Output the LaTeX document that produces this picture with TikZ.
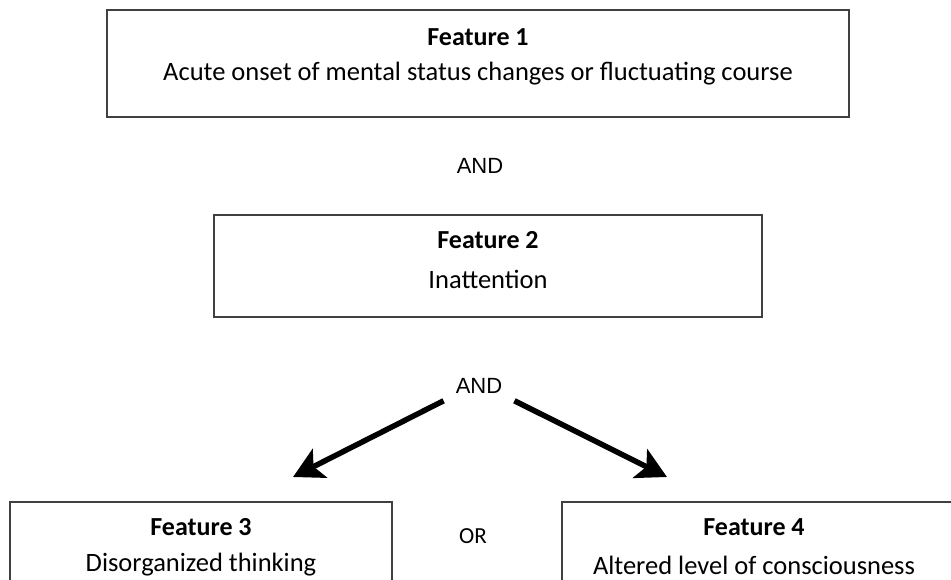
\documentclass[tikz,border=0pt]{standalone}
\usepackage{fontspec}
\setmainfont{Carlito}
\newfontfamily\andfont{Liberation Sans}
\usetikzlibrary{arrows.meta}
\begin{document}
\begin{tikzpicture}[x=1pt,y=-1pt,
  box/.style={draw=black!75,line width=1.6pt,inner sep=0pt},
  title/.style={font=\bfseries\fontsize{26}{30}\selectfont,inner sep=0pt},
  desc/.style={font=\fontsize{26.5}{30}\selectfont,inner sep=0pt},
  conj/.style={font=\andfont\fontsize{22}{25}\selectfont,inner sep=2pt},
  orlab/.style={font=\fontsize{23}{28}\selectfont,inner sep=0pt},
  bigarrow/.style={line width=5.5pt,-{Stealth[length=30pt,width=32pt,inset=7pt]}}]
\useasboundingbox (0,0) rectangle (951,579);
\clip (0,0) rectangle (951,579);
\fill[white] (0,0) rectangle (951,579);
% boxes
\draw[box] (107,10) rectangle (849,117);
\node[inner sep=0pt] (f1) at (478,63.5) {};
\draw[box] (214,215) rectangle (762,317);
\node[inner sep=0pt] (f2) at (488,266) {};
\draw[box] (10,502) rectangle (392,620);
\draw[box] (562,502) rectangle (970,620);
% texts
\node[title] (f1t) at (478,37) {Feature 1};
\node[desc] (f1d) at (478,74) {Acute onset of mental status changes or fluctuating course};
\node[conj] (and1) at (480,166) {AND};
\node[title] (f2t) at (488,240) {Feature 2};
\node[desc] (f2d) at (488,279) {Inattention};
\node[conj] (and2) at (479,386) {AND};
\node[title] (f3t) at (201,527) {Feature 3};
\node[desc] (f3d) at (201,565) {Disorganized thinking};
\node[orlab] (or) at (473,536) {OR};
\node[title] (f4t) at (754,527) {Feature 4};
\node[desc] (f4d) at (754,565) {Altered level of consciousness};
% arrows
\coordinate (t3) at (293,477);
\coordinate (t4) at (667,477);
\draw[bigarrow] ([shift={(-10,5)}]and2.south west) -- (t3);
\draw[bigarrow] ([shift={(10,5)}]and2.south east) -- (t4);
\end{tikzpicture}
\end{document}
